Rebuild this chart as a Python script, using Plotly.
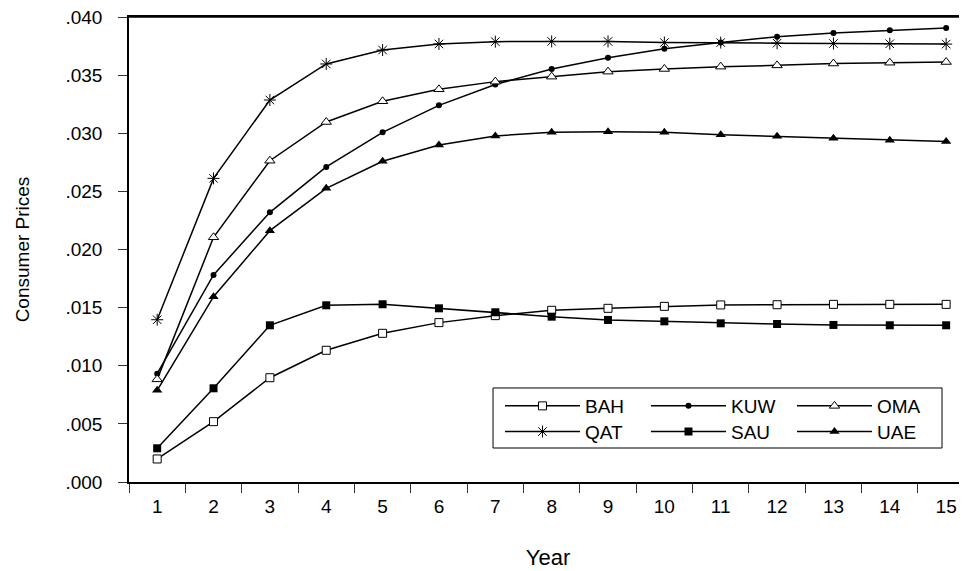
import plotly.graph_objects as go

years = [str(i) for i in range(1, 16)]

BAH = [0.00198, 0.00519, 0.00897, 0.01133, 0.01279, 0.01371, 0.01431, 0.01477,
       0.01494, 0.01511, 0.01523, 0.01525, 0.01528, 0.01528, 0.01528]
KUW = [0.00932, 0.01781, 0.02320, 0.02710, 0.03008, 0.03240, 0.03420, 0.03553,
       0.03650, 0.03727, 0.03780, 0.03830, 0.03862, 0.03885, 0.03905]
OMA = [0.00883, 0.02105, 0.02764, 0.03097, 0.03275, 0.03378, 0.03444, 0.03487,
       0.03530, 0.03553, 0.03573, 0.03584, 0.03600, 0.03607, 0.03613]
QAT = [0.01396, 0.02612, 0.03286, 0.03596, 0.03716, 0.03768, 0.03788, 0.03790,
       0.03790, 0.03780, 0.03780, 0.03775, 0.03772, 0.03770, 0.03767]
SAU = [0.00290, 0.00806, 0.01348, 0.01520, 0.01529, 0.01494, 0.01460, 0.01422,
       0.01394, 0.01382, 0.01365, 0.01359, 0.01351, 0.01348, 0.01348]
UAE = [0.00789, 0.01594, 0.02162, 0.02526, 0.02759, 0.02899, 0.02977, 0.03008,
       0.03013, 0.03008, 0.02988, 0.02974, 0.02957, 0.02940, 0.02928]

y_tickvals = [0.000, 0.005, 0.010, 0.015, 0.020, 0.025, 0.030, 0.035, 0.040]
y_ticktext = [".000", ".005", ".010", ".015", ".020", ".025", ".030", ".035", ".040"]

series = [
    ("BAH", BAH, "legend", dict(symbol="square", size=8, color="white", line=dict(color="black", width=1))),
    ("KUW", KUW, "legend", dict(symbol="circle", size=6, color="black", line=dict(color="black", width=0))),
    ("OMA", OMA, "legend", dict(symbol="triangle-up", size=9, color="white", line=dict(color="black", width=1))),
    ("QAT", QAT, "legend2", dict(symbol="asterisk-open", size=10, color="black", line=dict(color="black", width=1))),
    ("SAU", SAU, "legend2", dict(symbol="square", size=8, color="black", line=dict(color="black", width=0))),
    ("UAE", UAE, "legend2", dict(symbol="triangle-up", size=9, color="black", line=dict(color="black", width=0))),
]

fig = go.Figure()
for name, vals, lg, mk in series:
    fig.add_trace(go.Scatter(
        x=years, y=vals, name=name, mode="lines+markers",
        line=dict(color="black", width=1.5),
        marker=mk, legend=lg,
    ))

legend_common = dict(
    orientation="h", xanchor="left", yanchor="middle",
    borderwidth=0, bgcolor="rgba(0,0,0,0)",
    entrywidth=56, entrywidthmode="pixels", itemwidth=75,
    font=dict(size=19), traceorder="normal",
)

fig.update_layout(
    width=959, height=563,
    margin=dict(l=121, r=0, t=9, b=89, autoexpand=False),
    plot_bgcolor="white", paper_bgcolor="white",
    font=dict(family="Liberation Sans, Arial, sans-serif", size=19, color="black"),
    legend=dict(x=0.4427, y=0.1634, **legend_common),
    legend2=dict(x=0.4427, y=0.1082, **legend_common),
    shapes=[
        dict(type="rect", xref="paper", yref="paper",
             x0=0.4344, x1=0.9702, y0=0.0731, y1=0.2022,
             line=dict(color="black", width=1), fillcolor="white", layer="above"),
        dict(type="line", xref="paper", yref="paper",
             x0=0, x1=1, y0=1, y1=1,
             line=dict(color="black", width=1.5), layer="above"),
    ],
)
fig.update_xaxes(
    type="category", range=[-0.5, 14.37], automargin=False,
    tickson="boundaries", ticks="outside", ticklen=9, tickcolor="#333",
    ticklabelstandoff=6,
    showline=True, linecolor="black", linewidth=1.5, mirror=True,
    showgrid=False, zeroline=False,
    title=dict(text="Year", standoff=34, font=dict(size=22)),
)
fig.update_yaxes(
    range=[0, 0.04], tickvals=y_tickvals, ticktext=y_ticktext, automargin=False,
    ticks="outside", ticklen=9, tickcolor="#333", ticklabelstandoff=12,
    ticklabeloverflow="allow",
    showline=True, linecolor="black", linewidth=1.5,
    showgrid=False, zeroline=False,
    title=dict(text="Consumer Prices", standoff=31, font=dict(size=19)),
)

fig.write_html("out.html")
